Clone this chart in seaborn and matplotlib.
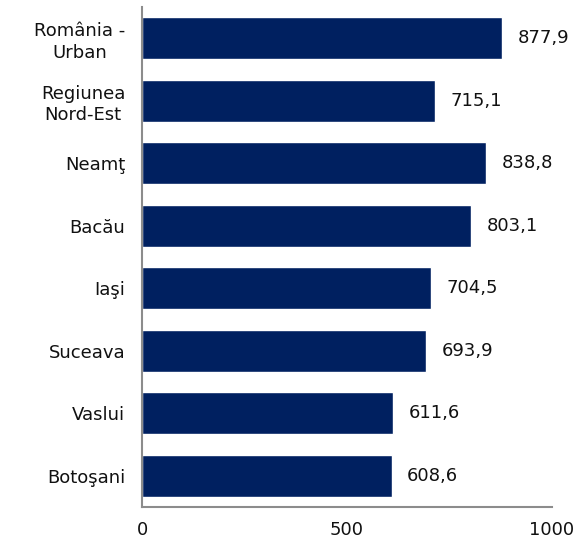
import pandas as pd
import matplotlib.pyplot as plt
import seaborn as sns

# Data
labels = ['România -\nUrban', 'Regiunea\nNord-Est', 'Neamţ', 'Bacău', 'Iaşi', 'Suceava', 'Vaslui', 'Botoşani']
values = [877.9, 715.1, 838.8, 803.1, 704.5, 693.9, 611.6, 608.6]
xticks = [0, 500, 1000]

df = pd.DataFrame({'label': labels, 'value': values})

sns.set_style('white')
plt.rcParams['font.family'] = ['DejaVu Sans']

fig = plt.figure(figsize=(5.79, 5.44), dpi=100)
ax = fig.add_axes([0.2453, 0.068, 0.708, 0.919])

sns.barplot(data=df, x='value', y='label', color='#002060', saturation=1, width=0.67, ax=ax)

for i, v in enumerate(values):
    ax.text(v + 38, i, f'{v:.1f}'.replace('.', ','), va='center', ha='left', fontsize=13, color='#111111')

ax.set_xlim(0, 1000)
ax.set_ylim(7.5, -0.5)
ax.set_xticks(xticks)
ax.set_xticklabels([str(t) for t in xticks], fontsize=13, color='#111111')
ax.tick_params(axis='y', labelsize=13, labelcolor='#111111', length=0, pad=12)
ax.tick_params(axis='x', length=0, pad=10)
ax.set_xlabel('')
ax.set_ylabel('')
for lab in ax.get_yticklabels():
    lab.set_horizontalalignment('right')
    lab.set_multialignment('center')
    lab.set_linespacing(1.25)

for s in ['top', 'right']:
    ax.spines[s].set_visible(False)
for s in ['left', 'bottom']:
    ax.spines[s].set_color('#8c8c8c')
    ax.spines[s].set_linewidth(1.5)

plt.savefig('out.png', dpi=100)
